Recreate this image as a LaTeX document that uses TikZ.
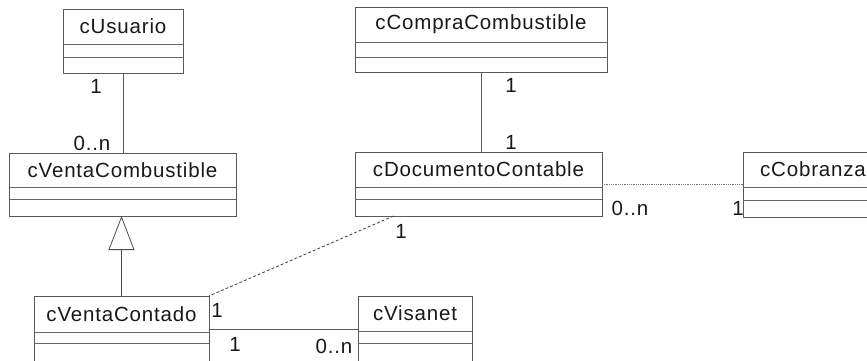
\documentclass[tikz,border=0pt]{standalone}
\usepackage{fontspec}
\setmainfont[LetterSpace=4]{Liberation Sans}
\usetikzlibrary{calc,arrows.meta}
\tikzset{
  clsbox/.style={draw=black!65, line width=0.8pt, inner sep=0pt, outer sep=0pt, rectangle},
  clsline/.style={draw=black!60, line width=0.8pt},
  clstitle/.style={font=\fontsize{20.5}{22}\selectfont, text=black!90, inner sep=0pt},
  mult/.style={font=\fontsize{20.5}{22}\selectfont, text=black!90, inner sep=0pt},
  assoc/.style={draw=black!65, line width=0.8pt},
  assocdot/.style={draw=black!55, line width=0.8pt, densely dotted},
  depend/.style={draw=black!75, line width=0.8pt, dash pattern=on 3pt off 2pt},
  gen/.style={draw=black!70, line width=0.8pt, -{Triangle[open, length=34pt, width=26pt, line width=0.8pt]}}
}
\newcommand\umlcls[8]{%
  \node[clsbox, minimum width=#4pt, minimum height=#5pt, anchor=north west] (#1) at (#2,#3) {};
  \node[clstitle] (#1-t) at ($(#1.north)+(0,#6/2)$) {#8};
  \draw[clsline] ($(#1.north west)+(0,#6)$) -- ($(#1.north east)+(0,#6)$);
  \draw[clsline] ($(#1.north west)+(0,#7)$) -- ($(#1.north east)+(0,#7)$);
}
\begin{document}
\begin{tikzpicture}[x=1pt,y=-1pt]
\useasboundingbox[fill=white] (0,0) rectangle (867,361);
\umlcls{usu}{63}{9}{120}{64}{35}{48}{cUsuario}
\umlcls{vcomb}{9}{153}{227}{63}{34}{46}{cVentaCombustible}
\umlcls{ccomp}{355}{7}{252}{65}{35}{50}{cCompraCombustible}
\umlcls{doc}{355}{152}{247}{64}{35}{47}{cDocumentoContable}
\umlcls{cob}{743}{152}{140}{65}{35}{48}{cCobranza}
\umlcls{vcont}{34}{296}{175}{80}{36}{47}{cVentaContado}
\umlcls{visa}{358}{296}{114}{80}{35}{47}{cVisanet}
% connectors
\draw[assoc] (usu.south) -- (usu.south |- vcomb.north);
\draw[gen] (vcont.north) -- (vcont.north |- vcomb.south);
\draw[assoc] (ccomp.south) -- (ccomp.south |- doc.north);
\draw[assocdot] (doc.east) -- (doc.east -| cob.west);
\coordinate (docdep) at ($(doc.south)+(-85,0)$);
\draw[depend] (docdep) -- (vcont.north east);
\coordinate (vcr) at ($(vcont.north east)+(0,33)$);
\draw[assoc] (vcr) -- (vcr -| visa.west);
% multiplicities
\node[mult] (m1) at (96,86) {1};
\node[mult] (m2) at (92,143) {0..n};
\node[mult] (m3) at (511,85) {1};
\node[mult] (m4) at (511,142) {1};
\node[mult] (m5) at (630,208) {0..n};
\node[mult] (m6) at (738,208) {1};
\node[mult] (m7) at (401,231) {1};
\node[mult] (m8) at (217,310) {1};
\node[mult] (m9) at (235,344) {1};
\node[mult] (m10) at (334,346) {0..n};
\end{tikzpicture}
\end{document}
